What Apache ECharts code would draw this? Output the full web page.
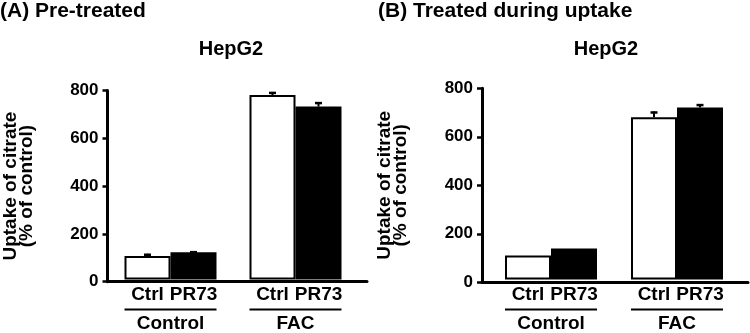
<!DOCTYPE html>
<html>
<head>
<meta charset="utf-8">
<script src="https://cdn.jsdelivr.net/npm/echarts@6/dist/echarts.min.js"></script>
<style>
  html, body { margin: 0; padding: 0; background: #fff; }
  #chart { width: 750px; height: 333px; }
</style>
</head>
<body>
<div id="chart"></div>
<script>
// groups on the x axis, bar types inside each group
var groups = ["Control", "FAC"];
var barNames = ["Ctrl", "PR73"];
var yTicks = [0, 200, 400, 600, 800];

// (A) pre-treated
var preCtrl = [100, 781];
var preCtrlErr = [9, 13];
var prePR73 = [115, 732];
var prePR73Err = [5, 19];

// (B) treated during uptake
var durCtrl = [100, 679];
var durCtrlErr = [0, 24];
var durPR73 = [130, 720];
var durPR73Err = [0, 14];

var FONT = '"Liberation Sans", Arial, sans-serif';
var BAR_W = 46;

var chart = echarts.init(document.getElementById("chart"));

function errData(vals, errs) {
  return vals.map(function (v, i) { return [i, v, errs[i]]; });
}

function errSeries(axisIdx, vals, errs, side) {
  return {
    type: "custom",
    xAxisIndex: axisIdx,
    yAxisIndex: axisIdx,
    z: 5,
    data: errData(vals, errs),
    renderItem: function (params, api) {
      var e = api.value(2);
      if (!e) return null;
      var base = api.coord([api.value(0), api.value(1)]);
      var top = api.coord([api.value(0), api.value(1) + e]);
      var x = base[0] + side * BAR_W / 2;
      return {
        type: "group",
        children: [
          { type: "line", shape: { x1: x, y1: base[1], x2: x, y2: top[1] }, style: { stroke: "#000", lineWidth: 2 } },
          { type: "line", shape: { x1: x - 3.5, y1: top[1] + 1, x2: x + 3.5, y2: top[1] + 1 }, style: { stroke: "#000", lineWidth: 2.5 } }
        ]
      };
    }
  };
}

function frameY(idx) {
  return {
    type: "value", gridIndex: idx, min: 0, max: 800, interval: 200,
    name: "Uptake of citrate\n(% of control)",
    nameLocation: "middle", nameGap: 73,
    nameTextStyle: { color: "#000", fontFamily: FONT, fontWeight: "bold", fontSize: 19, lineHeight: 16 },
    axisLine: { show: true, lineStyle: { color: "#000", width: 3 } },
    axisTick: { show: true, length: 5, lineStyle: { color: "#000", width: 2.5 } },
    axisLabel: { color: "#000", fontFamily: FONT, fontWeight: "bold", fontSize: 17, margin: 9 },
    splitLine: { show: false }
  };
}

function hiddenY(idx) {
  return {
    type: "value", gridIndex: idx, min: 0, max: 800, interval: 200,
    axisLine: { show: false }, axisTick: { show: false },
    axisLabel: { show: false }, splitLine: { show: false }
  };
}

function frameX(idx) {
  return {
    type: "value", gridIndex: idx, min: 0, max: 1,
    axisLine: { show: true, onZero: false, lineStyle: { color: "#000", width: 3 } },
    axisTick: { show: false }, axisLabel: { show: false }, splitLine: { show: false }
  };
}

function groupX(idx) {
  return {
    type: "category", gridIndex: idx, data: groups,
    axisLine: { show: false }, axisTick: { show: false },
    axisLabel: {
      margin: 29,
      formatter: function (v) { return "{hr|}\n{name|" + v + "}"; },
      rich: {
        hr: { width: 92, height: 2, backgroundColor: "#000" },
        name: { color: "#000", fontFamily: FONT, fontWeight: "bold", fontSize: 19, lineHeight: 22, padding: [4, 0, 0, 0] }
      }
    }
  };
}

function barSeries(axisIdx, name, vals, fill) {
  return {
    type: "bar", name: name, xAxisIndex: axisIdx, yAxisIndex: axisIdx,
    data: vals, barWidth: BAR_W, barGap: "0%",
    itemStyle: { color: fill, borderColor: "#000", borderWidth: 2 },
    label: {
      show: true, position: "bottom", distance: 6,
      formatter: function (p) { return p.seriesName; },
      color: "#000", fontFamily: FONT, fontWeight: "bold", fontSize: 19
    }
  };
}

var option = {
  animation: false,
  backgroundColor: "#fff",
  grid: [
    { left: 95, right: 383, top: 90.5, bottom: 51.3 },   // A frame
    { left: 108, right: 392, top: 90.5, bottom: 51.3 },  // A bars
    { left: 482, right: 2, top: 88.3, bottom: 50.7 },    // B frame
    { left: 488, right: 10, top: 88.3, bottom: 50.7 }    // B bars
  ],
  xAxis: [frameX(0), groupX(1), frameX(2), groupX(3)],
  yAxis: [frameY(0), hiddenY(1), frameY(2), hiddenY(3)],
  graphic: [
    { type: "text", left: 0, top: 1, style: { text: "(A) Pre-treated", fill: "#000", font: "bold 21px " + FONT } },
    { type: "text", left: 378, top: 1, style: { text: "(B) Treated during uptake", fill: "#000", font: "bold 21px " + FONT } },
    { type: "text", x: 231, y: 39, style: { text: "HepG2", fill: "#000", font: "bold 20px " + FONT, textAlign: "center" } },
    { type: "text", x: 606, y: 39, style: { text: "HepG2", fill: "#000", font: "bold 20px " + FONT, textAlign: "center" } }
  ],
  series: [
    barSeries(1, barNames[0], preCtrl, "#fff"),
    barSeries(1, barNames[1], prePR73, "#000"),
    errSeries(1, preCtrl, preCtrlErr, -1),
    errSeries(1, prePR73, prePR73Err, 1),
    barSeries(3, barNames[0], durCtrl, "#fff"),
    barSeries(3, barNames[1], durPR73, "#000"),
    errSeries(3, durCtrl, durCtrlErr, -1),
    errSeries(3, durPR73, durPR73Err, 1)
  ]
};

chart.setOption(option);
</script>
</body>
</html>
